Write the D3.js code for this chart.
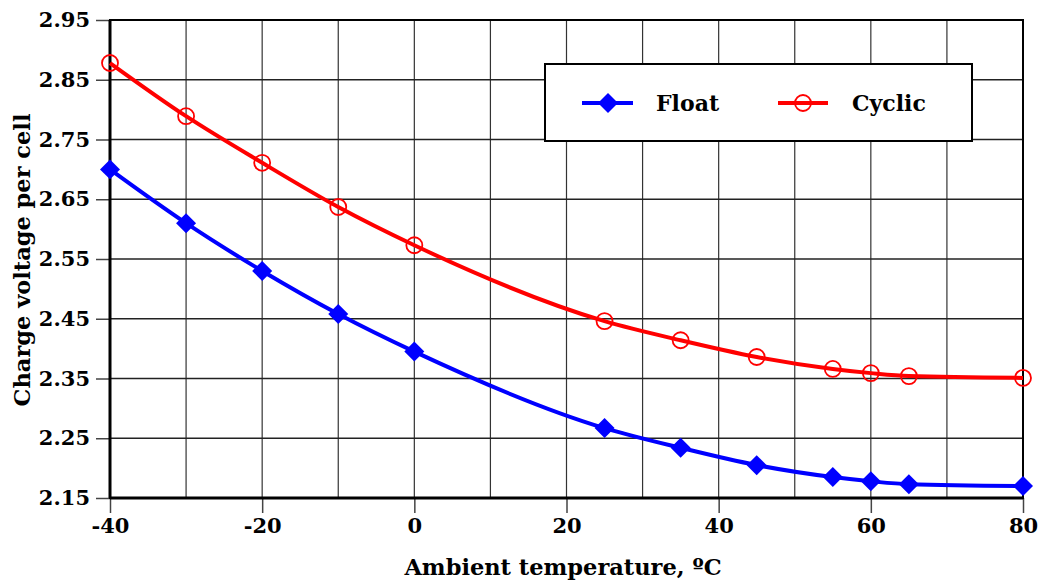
<!DOCTYPE html>
<html>
<head>
<meta charset="utf-8">
<script src="https://cdn.jsdelivr.net/npm/d3@7"></script>
<style>
  body { margin: 0; background: #fff; }
  text { font-family: "DejaVu Serif", serif; font-weight: bold; }
</style>
</head>
<body>
<div id="chart"></div>
<script>
var temps = [-40, -30, -20, -10, 0, 25, 35, 45, 55, 60, 65, 80];
var floatV = [2.70, 2.61, 2.53, 2.458, 2.395, 2.267, 2.234, 2.205, 2.185, 2.178, 2.173, 2.170];
var cyclicV = [2.878, 2.789, 2.711, 2.637, 2.573, 2.446, 2.414, 2.386, 2.366, 2.359, 2.354, 2.351];
var xTicks = [-40, -20, 0, 20, 40, 60, 80];
var xGrid = [-40, -30, -20, -10, 0, 10, 20, 30, 40, 50, 60, 70, 80];
var yTicks = [2.15, 2.25, 2.35, 2.45, 2.55, 2.65, 2.75, 2.85, 2.95];

var W = 1040, H = 581;
var svg = d3.select('#chart').append('svg')
    .attr('width', W).attr('height', H);

var x = d3.scaleLinear().domain([-40, 80]).range([110, 1023]);
var y = d3.scaleLinear().domain([2.15, 2.95]).range([498, 20]);

// grid
svg.append('g').selectAll('line')
    .data(xGrid).enter().append('line')
    .attr('x1', function (d) { return x(d); })
    .attr('x2', function (d) { return x(d); })
    .attr('y1', y(2.95)).attr('y2', y(2.15))
    .attr('stroke', '#333').attr('stroke-width', 1.2);

svg.append('g').selectAll('line')
    .data(yTicks).enter().append('line')
    .attr('x1', x(-40)).attr('x2', x(80))
    .attr('y1', function (d) { return y(d); })
    .attr('y2', function (d) { return y(d); })
    .attr('stroke', '#222').attr('stroke-width', 1.4);

// axes
var yAxis = svg.append('g')
    .attr('transform', 'translate(' + x(-40) + ',0)')
    .call(d3.axisLeft(y).tickValues(yTicks).tickFormat(d3.format('.2f')).tickSize(14).tickPadding(6));
var xAxis = svg.append('g')
    .attr('transform', 'translate(0,' + y(2.15) + ')')
    .call(d3.axisBottom(x).tickValues(xTicks).tickFormat(d3.format('d')).tickSize(15).tickPadding(5));

[yAxis, xAxis].forEach(function (a) {
    a.select('.domain').remove();
    a.selectAll('.tick line').attr('stroke', '#444').attr('stroke-width', 1.5);
    a.selectAll('.tick text').attr('fill', '#000')
        .style('font-size', '21px').style('font-family', '"DejaVu Serif", serif').style('font-weight', 'bold');
});
xAxis.selectAll('.tick text').text(function (d) { return d; });

// frame
svg.append('rect')
    .attr('x', x(-40)).attr('y', y(2.95))
    .attr('width', x(80) - x(-40)).attr('height', y(2.15) - y(2.95))
    .attr('fill', 'none').attr('stroke', '#000').attr('stroke-width', 2);
svg.append('line')
    .attr('x1', x(-40)).attr('x2', x(-40)).attr('y1', y(2.95)).attr('y2', y(2.15))
    .attr('stroke', '#000').attr('stroke-width', 3);
svg.append('line')
    .attr('x1', x(-40)).attr('x2', x(80)).attr('y1', y(2.15)).attr('y2', y(2.15))
    .attr('stroke', '#000').attr('stroke-width', 3);

var line = d3.line()
    .x(function (d) { return x(d[0]); })
    .y(function (d) { return y(d[1]); })
    .curve(d3.curveMonotoneX);

var floatData = temps.map(function (t, i) { return [t, floatV[i]]; });
var cyclicData = temps.map(function (t, i) { return [t, cyclicV[i]]; });

svg.append('path').datum(cyclicData).attr('d', line)
    .attr('fill', 'none').attr('stroke', '#ff0000').attr('stroke-width', 4);
svg.append('path').datum(floatData).attr('d', line)
    .attr('fill', 'none').attr('stroke', '#0000ff').attr('stroke-width', 4);

var diamond = d3.symbol().type(d3.symbolSquare).size(200);

svg.append('g').selectAll('path')
    .data(floatData).enter().append('path')
    .attr('d', diamond)
    .attr('transform', function (d) { return 'translate(' + x(d[0]) + ',' + y(d[1]) + ') rotate(45)'; })
    .attr('fill', '#0000ff');

svg.append('g').selectAll('circle')
    .data(cyclicData).enter().append('circle')
    .attr('cx', function (d) { return x(d[0]); })
    .attr('cy', function (d) { return y(d[1]); })
    .attr('r', 8)
    .attr('fill', 'none').attr('stroke', '#ff0000').attr('stroke-width', 1.8);

// legend
var lg = svg.append('g');
lg.append('rect').attr('x', 545).attr('y', 64).attr('width', 427).attr('height', 77)
    .attr('fill', '#fff').attr('stroke', '#000').attr('stroke-width', 2);
lg.append('line').attr('x1', 582).attr('x2', 633).attr('y1', 103).attr('y2', 103)
    .attr('stroke', '#0000ff').attr('stroke-width', 4);
lg.append('path').attr('d', diamond).attr('transform', 'translate(608,103) rotate(45)').attr('fill', '#0000ff');
lg.append('text').attr('x', 656).attr('y', 111).text('Float').style('font-size', '22px');
lg.append('line').attr('x1', 778).attr('x2', 828).attr('y1', 103).attr('y2', 103)
    .attr('stroke', '#ff0000').attr('stroke-width', 4);
lg.append('circle').attr('cx', 803).attr('cy', 103).attr('r', 8)
    .attr('fill', 'none').attr('stroke', '#ff0000').attr('stroke-width', 1.8);
lg.append('text').attr('x', 852).attr('y', 111).text('Cyclic').style('font-size', '22px');

// axis titles
svg.append('text')
    .attr('x', 563).attr('y', 575)
    .attr('text-anchor', 'middle')
    .style('font-size', '22.5px')
    .text('Ambient temperature, ºC');
svg.append('text')
    .attr('transform', 'translate(30,260) rotate(-90)')
    .attr('text-anchor', 'middle')
    .style('font-size', '22.5px')
    .text('Charge voltage per cell');
</script>
</body>
</html>
